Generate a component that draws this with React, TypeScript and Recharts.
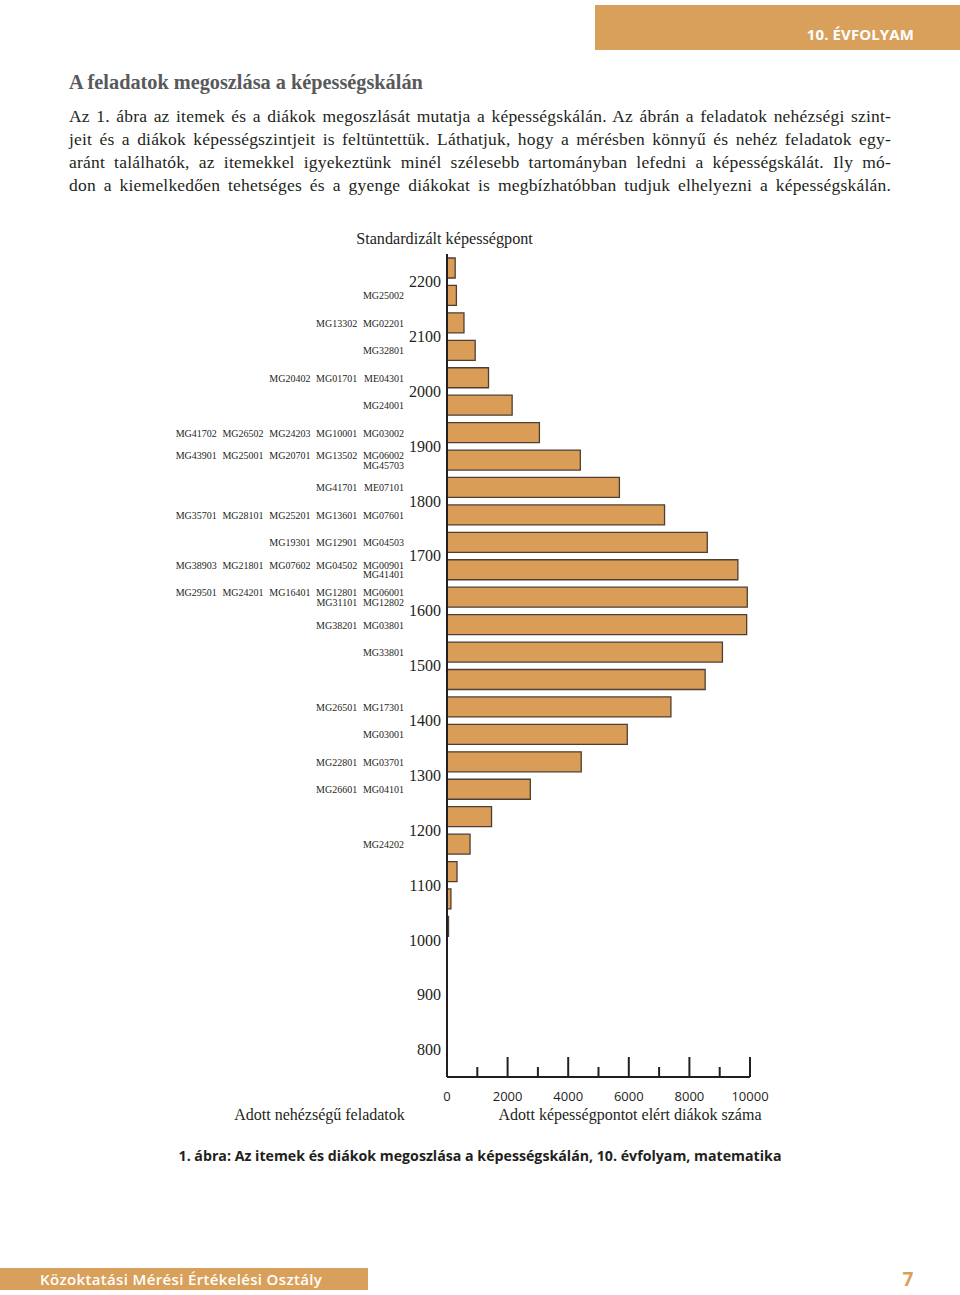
import React from "react";
import { BarChart, Bar, XAxis, YAxis, LabelList } from "recharts";

// skill bins (centres of 50-point bands), top to bottom
const bins = [
  2225, 2175, 2125, 2075, 2025, 1975, 1925, 1875, 1825, 1775, 1725, 1675, 1625, 1575, 1525,
  1475, 1425, 1375, 1325, 1275, 1225, 1175, 1125, 1075, 1025, 975, 925, 875, 825, 775,
];

// number of students in each bin
const students = [
  270, 310, 560, 930, 1370, 2150, 3050, 4400, 5690, 7180, 8590, 9600, 9910, 9890, 9090,
  8520, 7390, 5950, 4430, 2750, 1470, 760, 330, 130, 50, 0, 0, 0, 0, 0,
];

// item codes placed at each bin (one inner array per printed line)
const itemRows: string[][][] = [
  [],
  [["MG25002"]],
  [["MG13302", "MG02201"]],
  [["MG32801"]],
  [["MG20402", "MG01701", "ME04301"]],
  [["MG24001"]],
  [["MG41702", "MG26502", "MG24203", "MG10001", "MG03002"]],
  [["MG43901", "MG25001", "MG20701", "MG13502", "MG06002"], ["MG45703"]],
  [["MG41701", "ME07101"]],
  [["MG35701", "MG28101", "MG25201", "MG13601", "MG07601"]],
  [["MG19301", "MG12901", "MG04503"]],
  [["MG38903", "MG21801", "MG07602", "MG04502", "MG00901"], ["MG41401"]],
  [["MG29501", "MG24201", "MG16401", "MG12801", "MG06001"], ["MG31101", "MG12802"]],
  [["MG38201", "MG03801"]],
  [["MG33801"]],
  [],
  [["MG26501", "MG17301"]],
  [["MG03001"]],
  [["MG22801", "MG03701"]],
  [["MG26601", "MG04101"]],
  [],
  [["MG24202"]],
  [], [], [], [], [], [], [], [],
];

const skillTicks = [800, 900, 1000, 1100, 1200, 1300, 1400, 1500, 1600, 1700, 1800, 1900, 2000, 2100, 2200];
const countTicks = [0, 1000, 2000, 3000, 4000, 5000, 6000, 7000, 8000, 9000, 10000];

const data = bins.map((bin, i) => ({ bin, students: students[i] }));

const ORANGE = "#d9a05b";
const INK = "#231f20";
const SERIF = "'Liberation Serif', 'Times New Roman', serif";
const SANS = "'Open Sans', 'Noto Sans', sans-serif";

function ItemCodes(props: any) {
  const vb = props.viewBox ?? props;
  const idx = bins.indexOf(Number(props.value));
  const rows = idx >= 0 ? itemRows[idx] : [];
  if (!rows || rows.length === 0) return null;
  const cy = vb.y + vb.height / 2;
  const offsets = rows.length > 1 ? [-4.5, 5] : [0.5];
  return (
    <g>
      {rows.map((line, li) =>
        line.map((code, ci) => {
          const col = line.length - 1 - ci;
          return (
            <text
              key={`${li}-${ci}`}
              x={vb.x - 43 - col * 46.8}
              y={cy + offsets[li]}
              dy="0.35em"
              textAnchor="end"
              fontSize={10}
              fontFamily={SERIF}
              fill={INK}
            >
              {code}
            </text>
          );
        })
      )}
    </g>
  );
}

function CountTick(props: any) {
  const { x, y, payload } = props;
  const v = payload.value as number;
  const major = v % 2000 === 0;
  return (
    <g>
      {v > 0 && (
        <line x1={x} x2={x} y1={y} y2={y - (major ? 20 : 10)} stroke={INK} strokeWidth={2} />
      )}
      {major && (
        <text x={x} y={y + 19.5} dy="0.35em" textAnchor="middle" fontSize={13} fontFamily={SANS} fill={INK}>
          {v}
        </text>
      )}
    </g>
  );
}

function Txt({
  x,
  cy,
  size,
  children,
  align = "left",
  w = 0,
  style = {},
}: {
  x: number;
  cy: number;
  size: number;
  children: React.ReactNode;
  align?: "left" | "center" | "right";
  w?: number;
  style?: React.CSSProperties;
}) {
  const h = Math.round(size * 1.4);
  const left = align === "center" ? x - w / 2 : align === "right" ? x - w : x;
  return (
    <div
      style={{
        position: "absolute",
        left,
        top: cy - h / 2,
        width: w || undefined,
        height: h,
        lineHeight: `${h}px`,
        fontSize: size,
        textAlign: align,
        whiteSpace: "nowrap",
        ...style,
      }}
    >
      {children}
    </div>
  );
}

const paragraph = [
  "Az 1. ábra az itemek és a diákok megoszlását mutatja a képességskálán. Az ábrán a feladatok nehézségi szint-",
  "jeit és a diákok képességszintjeit is feltüntettük. Láthatjuk, hogy a mérésben könnyű és nehéz feladatok egy-",
  "aránt találhatók, az itemekkel igyekeztünk minél szélesebb tartományban lefedni a képességskálát. Ily mó-",
  "don a kiemelkedően tehetséges és a gyenge diákokat is megbízhatóbban tudjuk elhelyezni a képességskálán.",
];

export default function App() {
  return (
    <div
      style={{
        position: "absolute",
        left: 0,
        top: 0,
        width: 960,
        height: 1295,
        background: "#fff",
        color: INK,
        fontFamily: SERIF,
        overflow: "hidden",
      }}
    >
      {/* header band */}
      <div style={{ position: "absolute", left: 595, top: 5, width: 365, height: 45, background: ORANGE }} />
      <Txt x={914} cy={34} size={15} align="right" w={200} style={{ fontFamily: SANS, fontWeight: 700, color: "#fff", letterSpacing: 0.1 }}>
        10. ÉVFOLYAM
      </Txt>

      <Txt x={69} cy={82} size={20.3} style={{ fontWeight: 700, color: "#58595b" }}>
        A feladatok megoszlása a képességskálán
      </Txt>

      {paragraph.map((line, i) => (
        <div
          key={i}
          style={{
            position: "absolute",
            left: 69,
            top: 116 + i * 23 - 12,
            width: 822,
            height: 24,
            lineHeight: "24px",
            fontSize: 17.5,
            letterSpacing: 0.2,
            textAlign: "justify",
            textAlignLast: "justify",
          }}
        >
          {line}
        </div>
      ))}

      <Txt x={444.5} cy={239} size={16.2} align="center" w={400}>
        Standardizált képességpont
      </Txt>

      <div style={{ position: "absolute", left: 0, top: 0 }}>
        <BarChart
          width={960}
          height={1130}
          data={data}
          layout="vertical"
          margin={{ top: 254, right: 210, bottom: 13, left: 387 }}
        >
          <XAxis
            type="number"
            dataKey="students"
            domain={[0, 10000]}
            ticks={countTicks}
            interval={0}
            height={40}
            tickLine={false}
            tickSize={0}
            tickMargin={0}
            axisLine={{ stroke: INK, strokeWidth: 2 }}
            tick={<CountTick />}
          />
          <YAxis
            type="number"
            dataKey="bin"
            domain={[750, 2250]}
            ticks={skillTicks}
            interval={0}
            reversed
            width={60}
            tickLine={false}
            tickSize={0}
            tickMargin={6}
            axisLine={{ stroke: INK, strokeWidth: 2 }}
            tick={{ fontSize: 16, fontFamily: SERIF, fill: INK }}
          />
          <Bar
            dataKey="students"
            barSize={20}
            fill="#d99d58"
            stroke="#4f3f32"
            strokeWidth={1.3}
            isAnimationActive={false}
          >
            <LabelList dataKey="bin" content={<ItemCodes />} />
          </Bar>
        </BarChart>
      </div>

      <Txt x={319.5} cy={1115} size={16} align="center" w={300}>
        Adott nehézségű feladatok
      </Txt>
      <Txt x={630} cy={1115} size={16} align="center" w={360}>
        Adott képességpontot elért diákok száma
      </Txt>

      <Txt x={480} cy={1156} size={14.2} align="center" w={800} style={{ fontFamily: SANS, fontWeight: 700 }}>
        1. ábra: Az itemek és diákok megoszlása a képességskálán, 10. évfolyam, matematika
      </Txt>

      {/* footer */}
      <div style={{ position: "absolute", left: 0, top: 1268, width: 368, height: 22, background: ORANGE }} />
      <Txt x={40} cy={1279} size={15} style={{ fontFamily: SANS, fontWeight: 600, color: "#fff", letterSpacing: 0.35 }}>
        Közoktatási Mérési Értékelési Osztály
      </Txt>
      <Txt x={908} cy={1279} size={19} align="center" w={40} style={{ fontFamily: SANS, fontWeight: 700, color: ORANGE }}>
        7
      </Txt>
    </div>
  );
}
